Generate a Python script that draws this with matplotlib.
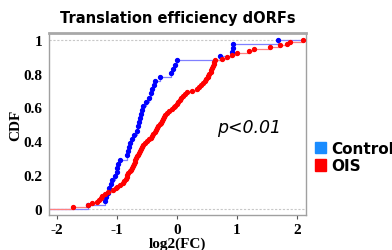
import numpy as np
import matplotlib
matplotlib.use("Agg")
import matplotlib.pyplot as plt
from matplotlib.patches import Patch

# log2(FC) values (sorted)
control = [-1.48, -1.20, -1.18, -1.15, -1.13, -1.10, -1.08, -1.03, -1.00, -0.99,
           -0.98, -0.95, -0.83, -0.82, -0.80, -0.78, -0.75, -0.72, -0.67, -0.65,
           -0.63, -0.62, -0.60, -0.58, -0.57, -0.52, -0.47, -0.43, -0.42, -0.38,
           -0.37, -0.28, -0.10, -0.07, -0.03, 0.00, 0.72, 0.92, 0.93, 0.93, 1.68]
ois = [-1.73, -1.48, -1.42, -1.33, -1.29, -1.27, -1.25, -1.20, -1.15, -1.06,
       -1.02, -0.99, -0.94, -0.90, -0.88, -0.85, -0.83, -0.825, -0.81, -0.785,
       -0.76, -0.74, -0.73, -0.71, -0.70, -0.69, -0.68, -0.665, -0.645, -0.625,
       -0.61, -0.595, -0.58, -0.56, -0.53, -0.50, -0.47, -0.43, -0.41, -0.39,
       -0.37, -0.35, -0.33, -0.31, -0.285, -0.26, -0.24, -0.225, -0.21, -0.19,
       -0.165, -0.13, -0.08, -0.05, -0.03, 0.00, 0.02, 0.045, 0.07, 0.095,
       0.13, 0.17, 0.25, 0.33, 0.37, 0.40, 0.43, 0.47, 0.49, 0.51,
       0.52, 0.54, 0.56, 0.575, 0.59, 0.60, 0.61, 0.62, 0.64, 0.75,
       0.83, 0.91, 1.00, 1.20, 1.29, 1.55, 1.72, 1.83, 1.88, 2.10]
series_names = ["Control", "OIS"]
legend_colors = ["#1a8cff", "#ff0000"]
point_colors = ["#0000ff", "#ff0000"]
line_colors = ["#8080ff", "#ff8080"]
x_ticks = [-2, -1, 0, 1, 2]
y_ticks = [0, 0.2, 0.4, 0.6, 0.8, 1]
y_ticklabels = ["0", "0.2", "0.4", "0.6", "0.8", "1"]

fig = plt.figure(figsize=(3.92, 2.51), dpi=100)
ax = fig.add_axes([49/392, (251-216)/251, (306-49)/392, (216-34)/251])
xmin, xmax = -2.13, 2.15
ax.set_xlim(xmin, xmax)
ax.set_ylim(-0.035, 1.04)

ax.axhline(0, color="#c8c8c8", lw=0.8, ls=(0, (2, 1.5)), zorder=1)
ax.axhline(1, color="#c8c8c8", lw=0.8, ls=(0, (2, 1.5)), zorder=1)

for vals, pc, lc in [(control, point_colors[0], line_colors[0]), (ois, point_colors[1], line_colors[1])]:
    v = np.sort(np.asarray(vals))
    F = np.arange(1, len(v) + 1) / len(v)
    ax.step(np.r_[xmin, v, xmax], np.r_[0, F, 1.0], where="post", color=lc, lw=0.9, zorder=2)
    ax.plot(v, F, ls="none", marker="o", ms=2.8, color=pc, mec=pc, zorder=3)

for s in ["left", "right", "bottom"]:
    ax.spines[s].set_color("#a0a0a0")
    ax.spines[s].set_linewidth(1.0)
ax.spines["top"].set_color("#a8a8a8")
ax.spines["top"].set_linewidth(2.0)

ax.set_xticks(x_ticks)
ax.set_xticklabels([str(t) for t in x_ticks])
ax.set_yticks(y_ticks)
ax.set_yticklabels(y_ticklabels)
ax.tick_params(axis="x", direction="out", length=3, width=0.8, color="#555555", pad=3)
ax.tick_params(axis="y", length=0, pad=5)
for lab in ax.get_xticklabels() + ax.get_yticklabels():
    lab.set_fontfamily("Liberation Serif")
    lab.set_fontweight("bold")
    lab.set_fontsize(11)

ax.set_xlabel("log2(FC)", fontfamily="Liberation Serif", fontweight="bold", fontsize=11, labelpad=0)
ax.set_ylabel("CDF", fontfamily="Liberation Serif", fontweight="bold", fontsize=11)
ax.yaxis.set_label_coords(-0.105, 0.5)
ax.set_title("Translation efficiency dORFs", fontfamily="DejaVu Sans", fontweight="bold", fontsize=10.5, pad=8)

ax.text(1.2, 0.485, "p<0.01", fontstyle="italic", fontsize=12.5, ha="center", va="center", fontfamily="DejaVu Sans")

handles = [Patch(facecolor=c, edgecolor=c) for c in legend_colors]
fig.legend(handles, series_names, loc="upper left", bbox_to_anchor=(315/392, 1 - 142/251),
           frameon=False, handlelength=0.75, handleheight=0.75, handletextpad=0.3,
           labelspacing=0.15, borderaxespad=0, borderpad=0,
           prop={"family": "DejaVu Sans", "weight": "bold", "size": 11})

fig.savefig("out.png", dpi=100)
